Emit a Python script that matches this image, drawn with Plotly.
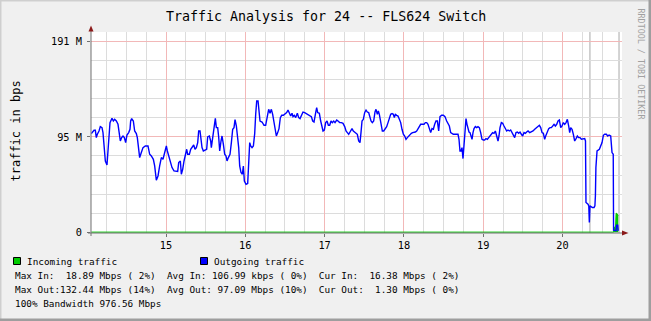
import plotly.graph_objects as go

# ---------------- data (hours since day 14 00:00, values in M bits/s) ----------------
out_hours = [
    1.40, 2.21, 2.61, 2.91, 3.22, 3.72, 4.12, 4.63, 4.93, 5.23,
    5.64, 6.14, 6.44, 6.75, 7.05, 7.65, 8.06, 8.46, 8.97, 9.47,
    9.77, 10.18, 10.58, 10.98, 11.39, 11.79, 12.19, 12.70, 13.10, 13.30,
    13.61, 14.11, 14.52, 15.02, 15.32, 15.73, 16.03, 16.53, 17.04, 17.74,
    18.55, 19.06, 19.56, 20.17, 20.57, 21.07, 21.58, 22.08, 22.59, 23.09,
    23.60, 24.10, 24.41, 24.91, 25.41, 25.82, 26.42, 27.13,
    27.53, 27.84, 28.34, 28.64, 29.05, 29.45, 29.86, 30.26, 30.56, 31.07,
    31.47, 31.87, 32.38, 32.78, 33.18, 33.59, 33.89, 34.29, 34.60, 34.90,
    35.30, 35.71, 36.31, 36.61, 37.12, 37.52, 37.72, 38.13, 38.53, 38.93,
    39.24, 39.64, 39.94, 40.25, 40.65, 40.95, 41.36, 41.76, 42.16, 42.47,
    42.87, 43.37, 43.78, 44.18, 44.58, 44.89, 45.29, 45.69, 46.00, 46.30,
    46.70, 47.11, 47.41, 47.71, 48.22, 48.72, 49.02, 49.33, 49.63, 50.03,
    50.44, 50.84, 51.14, 51.45, 51.85, 52.05, 52.45, 53.06,
    53.66, 54.16, 54.67, 55.07, 55.48, 55.88, 56.28, 56.69, 56.99, 57.39,
    57.80, 58.20, 58.60, 59.01, 59.51, 60.02, 60.52, 60.92, 61.33, 61.73,
    62.14, 62.44, 62.84, 63.25, 63.75, 64.15, 64.56, 64.96, 65.46, 65.97,
    66.47, 66.98, 67.48, 67.99, 68.39, 68.79, 69.30, 69.60, 69.90, 70.41,
    70.81, 71.22, 71.52, 71.92, 72.33, 72.73, 73.13, 73.54, 73.94, 74.34,
    74.75, 75.15, 75.66, 76.06, 76.56, 77.07, 77.57, 78.08, 78.48, 78.88,
    79.29, 79.69, 80.10,
    80.29, 80.69, 81.10, 81.50, 81.90, 82.31, 82.71, 83.01, 83.32, 83.72,
    84.12, 84.53, 84.93, 85.33, 85.64, 86.04, 86.44, 86.85, 87.25, 87.55,
    87.96, 88.26, 88.56, 88.87, 89.17, 89.47, 89.88, 90.38, 90.78, 91.19,
    91.59, 91.99, 92.40, 92.80, 93.10, 93.41, 93.81, 94.21, 94.62, 95.02,
    95.42, 95.83, 96.23, 96.63, 97.04, 97.44, 97.84, 98.25, 98.65, 99.05,
    99.46, 99.86, 100.27, 100.67, 101.07, 101.58, 102.08, 102.48, 102.89, 103.29,
    103.70, 104.10, 104.50, 104.91, 105.31, 105.71, 106.12, 106.52,
    106.92, 107.42, 107.93, 108.43, 108.94, 109.44, 109.75, 110.15, 110.55, 110.96,
    111.46, 111.97, 112.37, 112.67, 112.97, 113.28, 113.58, 113.88, 114.19, 114.49,
    114.79, 115.09, 115.40, 115.70, 116.00, 116.30, 116.61, 116.91, 117.21, 117.62,
    118.02, 118.42, 118.83, 119.23, 119.63, 120.04, 120.44, 120.84, 121.25, 121.65,
    122.05, 122.46, 122.86, 123.27, 123.67, 124.07, 124.48, 124.78, 125.08, 125.49,
    125.89, 126.29, 126.70, 127.10, 127.50, 127.91, 128.31, 128.71, 129.12, 129.52,
    129.92, 130.33, 130.73, 131.14, 131.54, 131.94, 132.35, 132.75, 133.15,
    133.56, 134.06, 134.57, 135.07, 135.58, 136.08, 136.59, 136.99, 137.39, 137.80,
    138.20, 138.60, 138.91, 139.31, 139.82, 140.22, 140.62, 141.03, 141.43, 141.83,
    142.24, 142.64, 143.04, 143.45, 143.85, 144.25, 144.66, 145.06, 145.46, 145.87,
    146.17, 146.47, 146.88, 147.28, 147.68, 148.09, 148.49, 148.89, 149.30, 149.70,
    150.21, 150.71, 150.95, 151.10, 151.72, 151.95, 152.12, 152.30, 153.03, 153.54,
    153.80, 153.95, 154.10, 154.45, 155.15, 155.55, 155.96, 156.36, 156.76, 157.27,
    157.67, 158.08, 158.58, 158.98, 159.35, 159.45, 160.20, 160.35, 160.70, 160.85,
]
out_mbps = [
    98.7, 102, 102, 94.7, 98, 101.3, 105.7, 104.7, 99.7, 88,
    71.3, 67.3, 81.3, 98, 109.7, 114, 111.3, 113, 111.3, 108,
    101.3, 91.3, 94.7, 96.3, 94.7, 89.7, 97.3, 99.7, 103, 111.3,
    113.7, 111.3, 101.3, 98.7, 94.7, 84.7, 74.7, 79.7, 84.7, 86.3,
    86.3, 78, 76.3, 73, 66.3, 52, 56.3, 66.3, 74.7, 73,
    79.7, 86.3, 81.3, 74.7, 68, 64.7, 61.3, 61.3,
    60.7, 69.7, 71.3, 58, 63, 71.3, 77.3, 83, 78, 78,
    83, 85.3, 87.3, 83, 84.7, 89.7, 101.3, 101.3, 88, 84.7,
    81.3, 82, 83, 95.3, 96.3, 91.3, 84.7, 94.7, 106.3, 114,
    104.7, 104.7, 95.3, 81.3, 91.3, 96.3, 88, 78, 76.3, 71.3,
    74.7, 78, 89.7, 103, 104.7, 112.7, 106.3, 96.3, 84.7, 66.3,
    59.7, 58, 66.3, 51.3, 48, 48.7, 76.3, 89.7, 86.3, 84.7,
    86.3, 98.7, 118, 131.3, 131.3, 124.7, 111.3, 110.3,
    107, 107, 114.7, 123, 119, 123, 118, 111.3, 103.7, 96.3,
    99.7, 103.7, 114.7, 117, 117, 118, 119.7, 122.3, 118, 116.3,
    119, 115.7, 117, 114.7, 119, 114.7, 113.7, 117, 120.3, 119.7,
    118.7, 118, 117, 115.7, 111.3, 110.3, 119.7, 124.7, 119.7, 119,
    111.3, 106.3, 101.3, 102.3, 109.7, 111.3, 107, 107, 111.3, 109.7,
    111.3, 109.7, 112.3, 111.3, 109.7, 109.7, 109, 105.7, 101.3, 99.7,
    98, 100.3, 102.3,
    103.7, 101.3, 100.3, 99.7, 98, 91.3, 89.7, 99.7, 111.3, 113,
    119.7, 122.3, 120.3, 119.7, 114.7, 111.3, 109.7, 111.3, 120.3, 123,
    118, 121.3, 118, 113, 108, 101.3, 101.3, 103.7, 105.7, 109.7,
    113, 118, 118.7, 118, 114.7, 118, 117, 116.3, 113, 109.7,
    103, 98, 96.3, 93, 94.7, 96.3, 98, 99, 99.7, 99.7,
    100.3, 101.3, 103.7, 106.3, 108, 108, 108, 109.7, 109.7, 108,
    103, 99.7, 103.7, 103, 108, 111.3, 111.3, 101.3,
    115.7, 117, 117, 115.7, 111.3, 108, 106.3, 99.7, 99, 98,
    98, 98, 98, 93, 81.3, 81.3, 84.7, 73.7, 86.3, 103.7,
    113.7, 108, 103, 100.3, 99.7, 96.3, 93, 99.7, 103.7, 105.7,
    104.7, 105.7, 104.7, 99.7, 93, 92.3, 92.3, 93.7, 93, 94.7,
    97, 98, 99.7, 99, 101.3, 96.3, 91.3, 96.3, 104.7, 109.7,
    109, 106.3, 103, 101.3, 102.3, 101.3, 102.3, 99.7, 96.3, 94.7,
    99.7, 100.3, 99, 100.3, 98, 96.3, 99.7, 99, 100.3,
    101.3, 99.7, 100.3, 101.3, 103, 104.7, 106.3, 107, 104.7, 99.7,
    99, 93, 96.3, 100.3, 103.7, 104.7, 104.7, 106.3, 108, 106.3,
    108, 111.3, 112.3, 104.7, 106.3, 109.7, 108, 109.7, 113, 106.3,
    99.7, 104.7, 103, 98, 91.3, 93.7, 96.3, 94.7, 94.7, 93,
    93.7, 93.7, 91.3, 29.7, 28, 26.3, 9.7, 26.3, 24.7, 24.7,
    26.3, 36.3, 64.7, 81.3, 83, 86.3, 89.7, 97, 98, 98,
    96.3, 97.3, 96.3, 79.7, 78, 2, 1.5, 7, 7, 1.3,
]

in_hours = [1.40, 159.45, 159.60, 160.05, 160.20, 160.40, 160.85]
in_mbps = [0.1, 0.1, 5.0, 5.0, 18.9, 18.9, 16.4]

day_hours = [24, 48, 72, 96, 120, 144]
day_labels = ["15", "16", "17", "18", "19", "20"]
y_ticks = [0, 95.37, 190.73]
y_labels = ["0", "95 M", "191 M"]
gap_hours = [152.3, 161.1]

title_text = "Traffic Analysis for 24 -- FLS624 Switch"
legend_lines = [
    "Max In:  18.89 Mbps ( 2%)  Avg In: 106.99 kbps ( 0%)  Cur In:  16.38 Mbps ( 2%)",
    "Max Out:132.44 Mbps (14%)  Avg Out: 97.09 Mbps (10%)  Cur Out:  1.30 Mbps ( 0%)",
    "100% Bandwidth 976.56 Mbps",
]

# ---------------- layout geometry ----------------
W, H = 651, 321
PL, PR, PT, PB = 91, 622, 32, 233
MONO = "DejaVu Sans Mono"


def px(x):
    return (x - PL) / (PR - PL)


def py(y):
    return (PB - y) / (PB - PT)


def nb(s):
    return s.replace(" ", "\u00a0")


fig = go.Figure()
fig.add_trace(go.Scatter(
    x=in_hours, y=in_mbps, mode="lines", fill="tozeroy",
    line=dict(color="#00cc00", width=1), fillcolor="#00cc00",
    hoverinfo="skip", showlegend=False))
fig.add_trace(go.Scatter(
    x=out_hours, y=out_mbps, mode="lines",
    line=dict(color="#0000ff", width=1.4),
    hoverinfo="skip", showlegend=False))

shapes = []
for g in gap_hours:
    shapes.append(dict(type="line", xref="x", yref="paper", x0=g, x1=g, y0=0, y1=1,
                       line=dict(color="#a8a8a8", width=1), layer="between"))
# axes
shapes.append(dict(type="line", xref="paper", yref="paper", x0=px(91), x1=px(91),
                   y0=py(236), y1=py(29), line=dict(color="#707070", width=1)))
shapes.append(dict(type="line", xref="paper", yref="paper", x0=px(88), x1=px(624),
                   y0=py(233), y1=py(233), line=dict(color="#707070", width=1)))
shapes.append(dict(type="path", xref="paper", yref="paper",
                   path=f"M {px(88.5)} {py(31.5)} L {px(93.5)} {py(31.5)} L {px(91)} {py(25.5)} Z",
                   fillcolor="#8b1a1a", line=dict(width=0)))
shapes.append(dict(type="path", xref="paper", yref="paper",
                   path=f"M {px(622)} {py(230.5)} L {px(622)} {py(235.5)} L {px(628.5)} {py(233)} Z",
                   fillcolor="#8b1a1a", line=dict(width=0)))
# legend boxes
shapes.append(dict(type="rect", xref="paper", yref="paper", x0=px(13.5), x1=px(20.5),
                   y0=py(264.5), y1=py(257.5), fillcolor="#00cc00",
                   line=dict(color="#000000", width=1)))
shapes.append(dict(type="rect", xref="paper", yref="paper", x0=px(200.5), x1=px(207.5),
                   y0=py(264.5), y1=py(257.5), fillcolor="#0000ff",
                   line=dict(color="#000000", width=1)))
# outer frame
shapes.append(dict(type="rect", xref="paper", yref="paper", x0=px(0), x1=px(651),
                   y0=py(0), y1=py(1.5), fillcolor="#cfcfcf", line=dict(width=0)))
shapes.append(dict(type="rect", xref="paper", yref="paper", x0=px(0), x1=px(1.5),
                   y0=py(0), y1=py(321), fillcolor="#cfcfcf", line=dict(width=0)))
shapes.append(dict(type="rect", xref="paper", yref="paper", x0=px(0), x1=px(651),
                   y0=py(318.5), y1=py(321), fillcolor="#9e9e9e", line=dict(width=0)))
shapes.append(dict(type="rect", xref="paper", yref="paper", x0=px(648.5), x1=px(651),
                   y0=py(0), y1=py(321), fillcolor="#9e9e9e", line=dict(width=0)))

annotations = [
    dict(text=title_text, x=px(326), y=py(16.5), xanchor="center", yanchor="middle",
         font=dict(family=MONO, size=13.3, color="#000")),
    dict(text="traffic in bps", x=px(15.5), y=py(131), textangle=-90,
         xanchor="center", yanchor="middle", font=dict(family=MONO, size=12, color="#000")),
    dict(text="RRDTOOL / TOBI OETIKER", x=px(640.5), y=py(64), textangle=90,
         xanchor="center", yanchor="middle", font=dict(family=MONO, size=8.4, color="#a0a0a0")),
    dict(text=nb("Incoming traffic"), x=px(24.5), y=py(261), xanchor="left", yanchor="middle",
         font=dict(family=MONO, size=9.35, color="#000")),
    dict(text=nb("Outgoing traffic"), x=px(211.5), y=py(261), xanchor="left", yanchor="middle",
         font=dict(family=MONO, size=9.35, color="#000")),
]
for i, line in enumerate(legend_lines):
    annotations.append(dict(text=nb(line), x=px(12.8), y=py(275.5 + 14 * i),
                            xanchor="left", yanchor="middle",
                            font=dict(family=MONO, size=9.35, color="#000")))
for a in annotations:
    a.update(xref="paper", yref="paper", showarrow=False)

fig.update_layout(
    width=W, height=H,
    margin=dict(l=PL, r=W - PR, t=PT, b=H - PB, pad=0),
    paper_bgcolor="#f0f0f0", plot_bgcolor="#ffffff",
    shapes=shapes, annotations=annotations,
    xaxis=dict(range=[1.3, 162.0], tickmode="array", tickvals=day_hours, ticktext=day_labels,
               showgrid=True, gridcolor="#f2b8b8", gridwidth=1, zeroline=False, showline=False,
               ticks="outside", ticklen=3, tickcolor="#707070",
               tickfont=dict(family=MONO, size=10.3, color="#000"),
               minor=dict(tick0=0, dtick=6, showgrid=True, gridcolor="#dcdcdc", gridwidth=1),
               fixedrange=True),
    yaxis=dict(range=[-0.8, 200.4], tickmode="array", tickvals=y_ticks, ticktext=y_labels,
               showgrid=True, gridcolor="#f2b8b8", gridwidth=1, zeroline=False, showline=False,
               ticks="outside", ticklen=3, tickcolor="#707070", ticklabelstandoff=3,
               tickfont=dict(family=MONO, size=10.3, color="#000"),
               minor=dict(tick0=0, dtick=19.073, showgrid=True, gridcolor="#dcdcdc", gridwidth=1),
               fixedrange=True),
)

fig.write_html("out.html")
